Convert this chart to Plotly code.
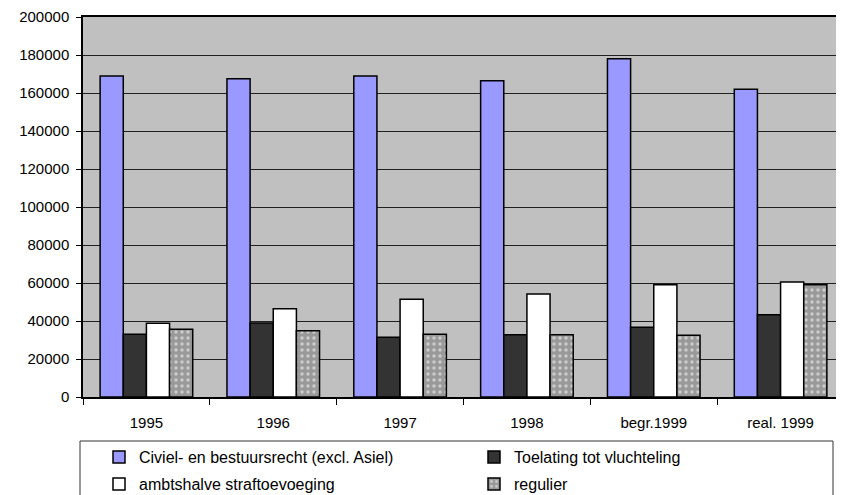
import plotly.graph_objects as go

categories = ["1995", "1996", "1997", "1998", "begr.1999", "real. 1999"]
civiel = [169000, 167500, 169000, 166500, 178000, 162000]
toelating = [33000, 39000, 31500, 32800, 36700, 43300]
ambtshalve = [38800, 46500, 51500, 54200, 59100, 60500]
regulier = [35600, 34900, 33000, 32800, 32500, 59100]

series_names = [
    "Civiel- en bestuursrecht (excl. Asiel)",
    "Toelating tot vluchteling",
    "ambtshalve straftoevoeging",
    "regulier",
]

FONT = "Liberation Sans, Arial, sans-serif"
OFF = 8  # page body margin
W, H = 844 - OFF, 495 - OFF
L, R, T, B = 83 - OFF, 0, 17 - OFF, 98
PW = W - L - R
PH = H - T - B


def px_x(p):
    return (p - 83) / PW


def px_y(p):
    return (397 - p) / PH


line = dict(color="black", width=1.5)

fig = go.Figure()
fig.add_bar(x=categories, y=civiel, name=series_names[0], showlegend=True,
            marker=dict(color="#9999FF", line=line), legend="legend")
fig.add_bar(x=categories, y=toelating, name=series_names[1], showlegend=True,
            marker=dict(color="#333333", line=line), legend="legend2")
fig.add_bar(x=categories, y=ambtshalve, name=series_names[2], showlegend=True,
            marker=dict(color="#FFFFFF", line=line), legend="legend3")
fig.add_bar(x=categories, y=regulier, name=series_names[3], showlegend=True,
            marker=dict(color="#999999", line=line,
                        pattern=dict(shape=".", fgcolor="white", bgcolor="#999999",
                                     size=6, solidity=0.25)),
            legend="legend4")


def leg(xref_px, yref_px):
    return dict(
        orientation="h",
        xanchor="left",
        yanchor="middle",
        x=px_x(xref_px),
        y=px_y(yref_px),
        itemwidth=30,
        bgcolor="rgba(0,0,0,0)",
        borderwidth=0,
        font=dict(family=FONT, size=16, color="black"),
    )


fig.update_layout(
    width=W, height=H,
    margin=dict(l=L, r=R, t=T, b=B, autoexpand=False),
    paper_bgcolor="white",
    plot_bgcolor="#C0C0C0",
    showlegend=True,
    barmode="group",
    bargap=0.27,
    bargroupgap=0,
    font=dict(family=FONT, size=15, color="black"),
    legend=leg(99, 457),
    legend2=leg(474, 457),
    legend3=leg(99, 484),
    legend4=leg(474, 484),
    xaxis=dict(
        showline=True, linecolor="black", linewidth=1.5, mirror=True,
        ticks="outside", tickson="boundaries", ticklen=6, tickcolor="black",
        tickwidth=1, ticklabelstandoff=11, showgrid=False,
        tickfont=dict(family=FONT, size=15, color="black"),
    ),
    yaxis=dict(
        range=[0, 200000], dtick=20000, tick0=0,
        showline=True, linecolor="black", linewidth=1.5,
        ticks="outside", ticklen=5, tickcolor="black", tickwidth=1,
        ticklabelstandoff=4,
        showgrid=True, gridcolor="#202020", gridwidth=1,
        zeroline=False, tickformat="d",
        tickfont=dict(family=FONT, size=15, color="black"),
    ),
    shapes=[
        dict(type="rect", xref="paper", yref="paper",
             x0=px_x(80), x1=px_x(833), y0=px_y(441), y1=px_y(520),
             line=dict(color="#333333", width=1), fillcolor="rgba(0,0,0,0)"),
    ],
)

fig.write_html("out.html")
